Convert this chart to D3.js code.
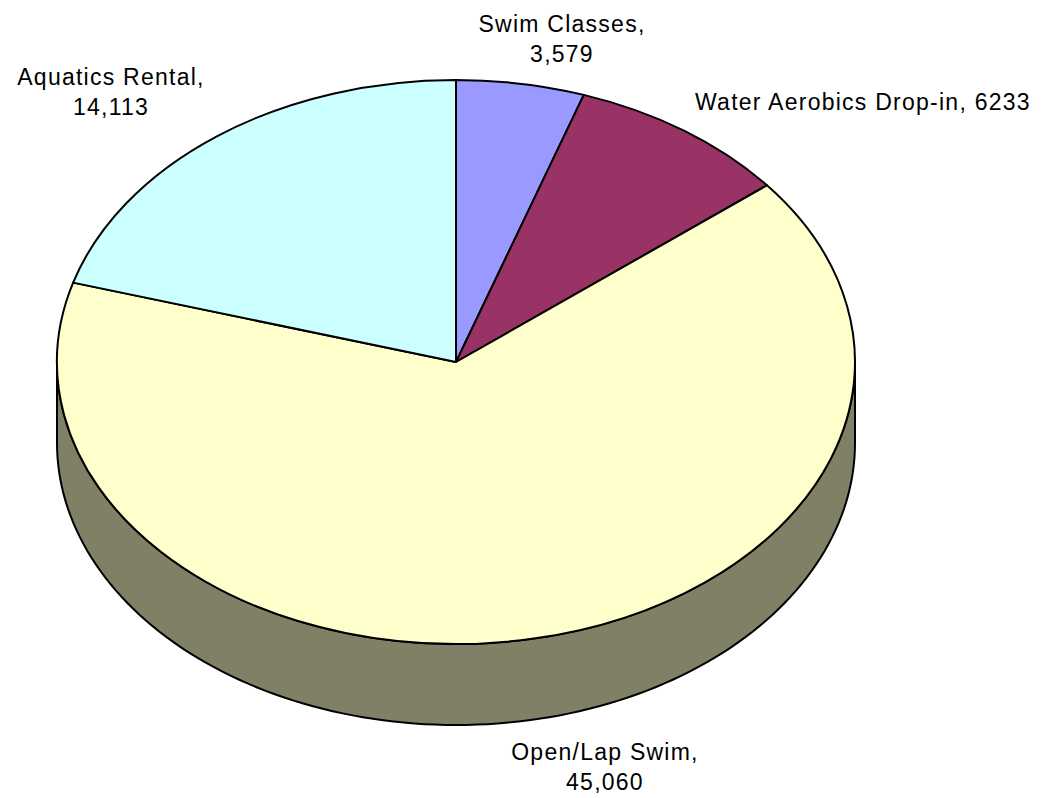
<!DOCTYPE html>
<html>
<head>
<meta charset="utf-8">
<script src="https://cdn.jsdelivr.net/npm/d3@7"></script>
<style>
  html, body { margin: 0; padding: 0; background: #fff; }
  svg { display: block; }
  .label { font-family: "Liberation Sans", Arial, sans-serif; font-size: 23px; letter-spacing: 1.25px; fill: #000; }
</style>
</head>
<body>
<svg width="1050" height="798"></svg>
<script>
// data (clockwise from 12 o'clock)
const categories = ['Swim Classes', 'Water Aerobics Drop-in', 'Open/Lap Swim', 'Aquatics Rental'];
const values = [3579, 6233, 45060, 14113];
const valueLabels = ['3,579', '6233', '45,060', '14,113'];
const colors = ['#9999FF', '#993366', '#FFFFCC', '#CCFFFF'];

// label layout (lines, anchor position)
const labelLayout = [
    { lines: ['Swim Classes,', '3,579'], x: 562, y: 32, anchor: 'middle' },
    { lines: ['Water Aerobics Drop-in, 6233'], x: 695, y: 110, anchor: 'start' },
    { lines: ['Open/Lap Swim,', '45,060'], x: 605, y: 760, anchor: 'middle' },
    { lines: ['Aquatics Rental,', '14,113'], x: 111, y: 85, anchor: 'middle' }
];

const cx = 456, cy = 362, rx = 399, ry = 282, depth = 81;

const svg = d3.select('svg');
const slices = d3.pie().sort(null).value(d => d)(values)
    .map((d, i) => Object.assign(d, { name: categories[i], color: colors[i] }));

// point on the tilted ellipse for a pie angle (0 = top, clockwise)
const pt = (a, dy = 0) => [cx + rx * Math.sin(a), cy - ry * Math.cos(a) + dy];

//side walls: only the front half (PI/2 .. 3PI/2) is visible
const sideGroup = svg.append('g');
slices.forEach(s => {
    const a0 = Math.max(s.startAngle, Math.PI / 2);
    const a1 = Math.min(s.endAngle, Math.PI * 3 / 2);
    if (a1 <= a0) return;
    const steps = d3.range(0, 1.0001, 1 / 120).map(t => a0 + (a1 - a0) * t);
    const top = steps.map(a => pt(a));
    const bottom = steps.slice().reverse().map(a => pt(a, depth));
    const c = d3.rgb(s.color);
    sideGroup.append('path')
        .attr('d', d3.line()(top.concat(bottom)) + 'Z')
        .attr('fill', d3.rgb(c.r * 0.5, c.g * 0.5, c.b * 0.5))
        .attr('stroke', '#000')
        .attr('stroke-width', 2)
        .attr('stroke-linejoin', 'round');
});

//top face: circular arcs squashed into the ellipse
const arc = d3.arc().innerRadius(0).outerRadius(rx);
svg.append('g')
    .attr('transform', `translate(${cx},${cy}) scale(1,${ry / rx})`)
    .selectAll('path').data(slices)
    .enter().append('path')
    .attr('d', arc)
    .attr('fill', d => d.color)
    .attr('stroke', '#000')
    .attr('stroke-width', 2)
    .attr('stroke-linejoin', 'round')
    .attr('vector-effect', 'non-scaling-stroke');

//labels
labelLayout.forEach(l => {
    const t = svg.append('text')
        .attr('class', 'label')
        .attr('text-anchor', l.anchor);
    l.lines.forEach((line, i) => {
        t.append('tspan')
            .attr('x', l.x)
            .attr('y', l.y + i * 30)
            .text(line);
    });
});
</script>
</body>
</html>
